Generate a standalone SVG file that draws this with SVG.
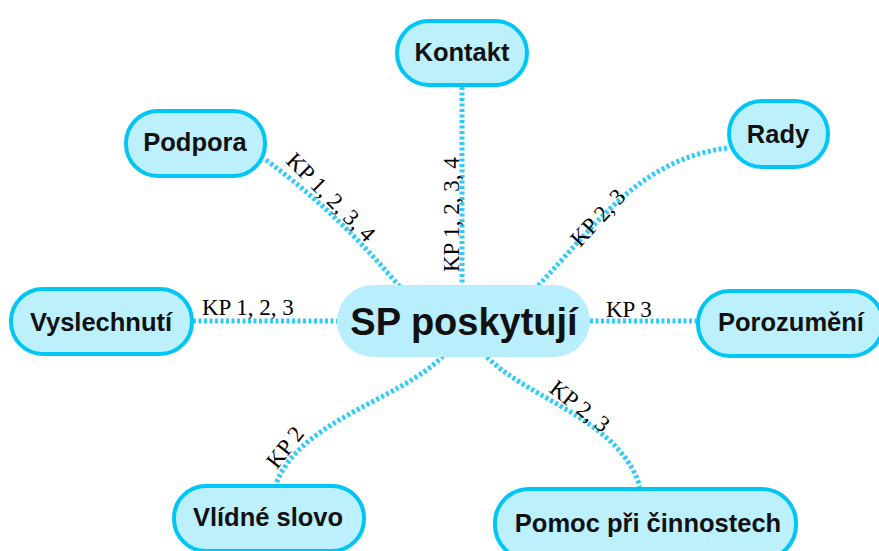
<svg xmlns="http://www.w3.org/2000/svg" width="879" height="551" viewBox="0 0 879 551">
  <style>
    .node rect { fill: #bdf0fd; stroke: #00c6f6; stroke-width: 4; }
    .node text { font-family: "Liberation Sans", Arial, sans-serif; font-weight: bold; font-size: 25.5px; fill: #111; text-anchor: middle; dominant-baseline: central; }
    .center rect { fill: #b9eefc; stroke: none; }
    .center text { font-size: 38px; }
    .link { fill: none; stroke: #2fcbfa; stroke-width: 5; stroke-dasharray: 3 2.5; }
    .lbl { font-family: "Liberation Serif", "Times New Roman", serif; font-size: 23px; fill: #000; }
  </style>

  <g id="connectors">
    <path class="link" d="M462,87 L462,285"/>
    <path class="link" d="M266,160 C320,200 360,240 400,287"/>
    <path class="link" d="M727,148 C640,160 600,220 537,287"/>
    <path class="link" d="M193,321 L337,321"/>
    <path class="link" d="M590,321 L697,321"/>
    <path class="link" d="M443,356 C400,400 300,420 276,484"/>
    <path class="link" d="M487,357 C530,400 620,420 640,487"/>
  </g>

  <g id="labels">
    <text class="lbl" transform="translate(285,162) rotate(45)">KP 1, 2, 3, 4</text>
    <text class="lbl" transform="translate(459,272) rotate(-90)">KP 1, 2, 3, 4</text>
    <text class="lbl" transform="translate(580,248) rotate(-47)">KP 2, 3</text>
    <text class="lbl" x="202" y="315">KP 1, 2, 3</text>
    <text class="lbl" x="606" y="317">KP 3</text>
    <text class="lbl" transform="translate(277,470) rotate(-52)">KP 2</text>
    <text class="lbl" transform="translate(548,391) rotate(38)">KP 2, 3</text>
  </g>

  <g id="center" class="node center">
    <rect x="337" y="285" width="253" height="72" rx="36"/>
    <text x="464" y="322">SP poskytují</text>
  </g>
  <g id="kontakt" class="node">
    <rect x="397" y="21" width="130" height="64" rx="32"/>
    <text x="462" y="52">Kontakt</text>
  </g>
  <g id="podpora" class="node">
    <rect x="126" y="111" width="139" height="65" rx="32"/>
    <text x="195" y="142">Podpora</text>
  </g>
  <g id="rady" class="node">
    <rect x="729" y="101" width="99" height="66" rx="33"/>
    <text x="778" y="134">Rady</text>
  </g>
  <g id="vyslechnuti" class="node">
    <rect x="11" y="289" width="181" height="65" rx="32"/>
    <text x="101" y="322">Vyslechnutí</text>
  </g>
  <g id="porozumeni" class="node">
    <rect x="698" y="291" width="185" height="65" rx="32"/>
    <text x="791" y="322">Porozumění</text>
  </g>
  <g id="vlidne-slovo" class="node">
    <rect x="174" y="486" width="190" height="65" rx="32"/>
    <text x="268" y="517">Vlídné slovo</text>
  </g>
  <g id="pomoc" class="node">
    <rect x="495" y="489" width="301" height="70" rx="34"/>
    <text x="648" y="523">Pomoc při činnostech</text>
  </g>
</svg>
